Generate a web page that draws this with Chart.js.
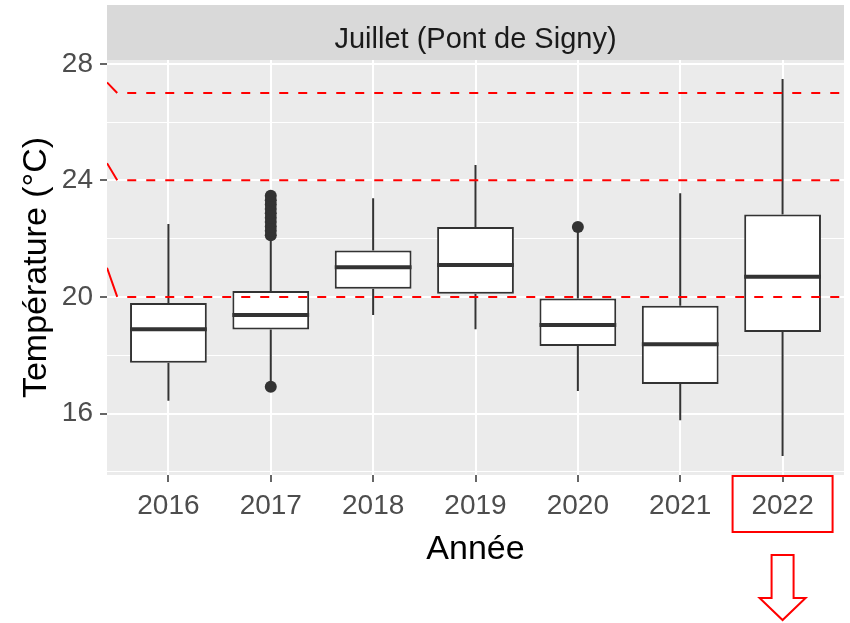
<!DOCTYPE html>
<html><head><meta charset="utf-8">
<script src="https://cdn.jsdelivr.net/npm/chart.js@4.4.1/dist/chart.umd.min.js"></script>
<style>html,body{margin:0;padding:0;background:#fff}#wrap{width:850px;height:623px}</style>
</head><body><div id="wrap"><canvas id="c" width="850" height="623"></canvas></div>
<script>
// ---- data ----
const years       = ['2016','2017','2018','2019','2020','2021','2022'];
const whiskerLow  = [16.44, 17.05, 19.38, 18.89, 16.77, 15.77, 14.54];
const q1          = [17.74, 18.88, 20.28, 20.11, 18.32, 17.01, 18.80];
const median      = [18.89, 19.38, 21.02, 21.10, 19.04, 18.38, 20.69];
const q3          = [19.79, 20.20, 21.59, 22.40, 19.95, 19.70, 22.83];
const whiskerHigh = [22.50, 22.05, 23.39, 24.53, 22.25, 23.56, 27.48];
const outlierYear  = ['2017','2017','2017','2017','2017','2017','2017','2017','2017','2017','2017','2020'];
const outlierValue = [16.92, 22.12, 22.27, 22.42, 22.57, 22.72, 22.87, 23.02, 23.17, 23.32, 23.47, 22.40];
const thresholds     = [20, 24, 27];
const thresholdStart = [21.0, 24.59, 27.36];
const yTicks = [14, 16, 18, 20, 22, 24, 26, 28];
const yLabelTicks = [16, 20, 24, 28];
const yMin = 13.89, yMax = 28.13;
const stripLabel = 'Juillet (Pont de Signy)';
const highlightYear = '2022';

const FONT = "'Liberation Sans', Arial, sans-serif";
const pos = y => years.indexOf(y) + 1;

const boxData = years.map((y, i) => ({x: i + 1, y: [q1[i], q3[i]]}));
const medData = [];
years.forEach((y, i) => { medData.push({x: i + 1 - 0.375, y: median[i]}, {x: i + 1 + 0.375, y: median[i]}, {x: i + 1 + 0.375, y: null}); });
const whiskData = [];
years.forEach((y, i) => {
  whiskData.push({x: i + 1, y: whiskerLow[i]}, {x: i + 1, y: q1[i]}, {x: i + 1, y: null},
                 {x: i + 1, y: q3[i]}, {x: i + 1, y: whiskerHigh[i]}, {x: i + 1, y: null});
});
const outData = outlierYear.map((y, i) => ({x: pos(y), y: outlierValue[i]}));
const slantData = [];
thresholds.forEach((t, i) => { slantData.push({x: 0.4, y: thresholdStart[i]}, {x: 0.5, y: t}, {x: 0.5, y: null}); });

const threshSets = thresholds.map(t => ({
  type: 'line', data: [{x: 0.5, y: t}, {x: 7.6, y: t}],
  borderColor: '#FF0000', borderWidth: 2, borderDash: [9, 10], borderDashOffset: 9,
  pointRadius: 0, order: -1
}));

const bgPlugin = {
  id: 'bg',
  beforeDraw(chart) {
    const {ctx, chartArea: a} = chart;
    ctx.save();
    ctx.fillStyle = '#EBEBEB';
    ctx.fillRect(a.left, a.top, a.right - a.left, a.bottom - a.top);
    ctx.fillStyle = '#D9D9D9';
    ctx.fillRect(a.left, 5, a.right - a.left, a.top - 5);
    ctx.fillStyle = '#1A1A1A';
    ctx.font = '29px ' + FONT;
    ctx.textAlign = 'center';
    ctx.textBaseline = 'middle';
    ctx.fillText(stripLabel, (a.left + a.right) / 2, (5 + a.top) / 2 + 7);
    ctx.restore();
  },
  afterDraw(chart) {
    const {ctx} = chart;
    const cx = chart.scales.x.getPixelForValue(pos(highlightYear));
    ctx.save();
    ctx.strokeStyle = '#FF0000';
    ctx.lineWidth = 2;
    ctx.strokeRect(cx - 50, 476, 100, 56);
    ctx.beginPath();
    ctx.moveTo(cx - 11, 555);
    ctx.lineTo(cx + 11, 555);
    ctx.lineTo(cx + 11, 598);
    ctx.lineTo(cx + 23, 598);
    ctx.lineTo(cx, 620);
    ctx.lineTo(cx - 23, 598);
    ctx.lineTo(cx - 11, 598);
    ctx.closePath();
    ctx.fillStyle = '#fff';
    ctx.fill();
    ctx.stroke();
    ctx.restore();
  }
};

new Chart(document.getElementById('c'), {
  type: 'scatter',
  data: {
    datasets: [
      {type: 'bar', data: boxData, backgroundColor: '#FFFFFF', borderColor: '#333333', borderWidth: 2,
       borderSkipped: false, barPercentage: 0.75, categoryPercentage: 1, order: 2},
      {type: 'line', data: medData, borderColor: '#333333', borderWidth: 4, pointRadius: 0, spanGaps: false, order: 1, borderCapStyle: 'butt'},
      {type: 'line', data: whiskData, borderColor: '#333333', borderWidth: 2, pointRadius: 0, spanGaps: false, order: 3},
      {type: 'scatter', data: outData, pointRadius: 6, backgroundColor: '#333333', borderWidth: 0, order: 0},
      {type: 'line', data: slantData, borderColor: '#FF0000', borderWidth: 2, pointRadius: 0, spanGaps: false, order: -1},
      ...threshSets
    ]
  },
  options: {
    responsive: false, animation: false,
    layout: {padding: {top: 60, right: 4, left: 0, bottom: 0}},
    plugins: {legend: {display: false}, tooltip: {enabled: false}},
    scales: {
      x: {
        type: 'linear', min: 0.4, max: 7.6, offset: false,
        afterBuildTicks: s => { s.ticks = years.map((y, i) => ({value: i + 1})); },
        afterFit: s => { s.height = 148; },
        ticks: {callback: v => years[Math.round(v) - 1], font: {family: FONT, size: 28}, color: '#4D4D4D',
                padding: 7, autoSkip: false, maxRotation: 0},
        grid: {color: '#FFFFFF', lineWidth: 2, tickColor: '#333333', tickLength: 7, tickWidth: 1.5, offset: false},
        border: {display: false},
        title: {display: true, text: 'Année', font: {family: FONT, size: 34, lineHeight: 1}, color: '#000000',
                padding: {top: 0, bottom: 56}}
      },
      y: {
        type: 'linear', min: yMin, max: yMax,
        afterBuildTicks: s => { s.ticks = yTicks.map(v => ({value: v})); },
        afterFit: s => { s.width = 107; },
        ticks: {callback: v => yLabelTicks.includes(v) ? String(v) : '', font: {family: FONT, size: 28}, color: '#4D4D4D', padding: 7},
        grid: {color: '#FFFFFF',
               lineWidth: c => (c.tick && yLabelTicks.includes(c.tick.value)) ? 2 : 1,
               tickColor: c => (c.tick && yLabelTicks.includes(c.tick.value)) ? '#333333' : 'rgba(0,0,0,0)',
               tickLength: 7, tickWidth: 1.5},
        border: {display: false},
        title: {display: true, text: 'Température (°C)', font: {family: FONT, size: 34, lineHeight: 1}, color: '#000000',
                padding: {top: 20, bottom: 0}}
      }
    }
  },
  plugins: [bgPlugin]
});
</script></body></html>
